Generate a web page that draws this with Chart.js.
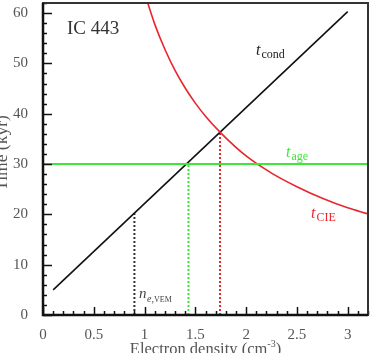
<!DOCTYPE html>
<html>
<head>
<meta charset="utf-8">
<script src="https://cdn.jsdelivr.net/npm/chart.js@4"></script>
<style>
  html, body { margin: 0; padding: 0; background: #fff; }
  canvas { display: block; }
</style>
</head>
<body>
<canvas id="chart-ic443" width="370" height="353"></canvas>
<script>
// t_cond (black line)
const condDensity = [0.1, 3.0];
const condTime = [5.0, 60.3];

// t_CIE (red curve)
const cieDensity = [1.0, 1.1, 1.2, 1.3, 1.4, 1.5, 1.6, 1.75, 2.0, 2.25, 2.5, 2.75, 3.0, 3.2];
const cieTime = [64.0, 57.8, 52.8, 48.6, 45.1, 42.1, 39.5, 36.2, 31.6, 28.2, 25.5, 23.2, 21.3, 20.1];

// t_age (green horizontal)
const ageDensity = [0, 3.2];
const ageTime = [30, 30];

// dotted markers: [density, time at top]
const vemMark = [0.9, 20.2];
const ageMark = [1.432, 30];
const cieMark = [1.743, 36.4];

const xTicks = [0, 0.5, 1, 1.5, 2, 2.5, 3];
const yTicks = [0, 10, 20, 30, 40, 50, 60];
const xMinorStep = 0.1;
const yMinorStep = 2;

const RED = '#e8262c';
const GREEN = '#3ee63a';
const INK = '#111';
const LABEL = '#555';
const SERIF = '"Liberation Serif", "DejaVu Serif", serif';

const pts = (xs, ys) => xs.map((x, i) => ({ x, y: ys[i] }));
const vline = (m) => [{ x: m[0], y: 0 }, { x: m[0], y: m[1] }];

const drawSub = (ctx, x, y, main, sub, color, mainSize, subSize) => {
  ctx.fillStyle = color;
  ctx.textBaseline = 'alphabetic';
  ctx.textAlign = 'left';
  ctx.font = `italic ${mainSize}px ${SERIF}`;
  ctx.fillText(main, x, y);
  const w = ctx.measureText(main).width;
  ctx.font = `${subSize}px ${SERIF}`;
  ctx.fillText(sub, x + w + 1, y + 3);
};

const frameAndText = {
  id: 'frameAndText',
  afterDraw(chart) {
    const { ctx, chartArea: a, scales: { x, y } } = chart;
    ctx.save();

    // inward ticks
    ctx.strokeStyle = INK;
    ctx.lineWidth = 1.5;
    ctx.beginPath();
    for (let v = 0; v <= 3.2 + 1e-9; v += xMinorStep) {
      const px = Math.round(x.getPixelForValue(v)) + 0.5;
      const major = xTicks.some((t) => Math.abs(t - v) < 1e-6);
      ctx.moveTo(px, a.bottom);
      ctx.lineTo(px, a.bottom - (major ? 8 : 4));
    }
    for (let v = 0; v <= 62 + 1e-9; v += yMinorStep) {
      const py = Math.round(y.getPixelForValue(v)) + 0.5;
      const major = yTicks.some((t) => Math.abs(t - v) < 1e-6);
      ctx.moveTo(a.left, py);
      ctx.lineTo(a.left + (major ? 9 : 4), py);
    }
    ctx.stroke();

    // frame
    ctx.strokeStyle = '#333';
    ctx.lineWidth = 2;
    ctx.strokeRect(a.left, a.top, a.right - a.left, a.bottom - a.top);
    ctx.strokeStyle = INK;
    ctx.lineWidth = 2.5;
    ctx.beginPath();
    ctx.moveTo(a.left, a.top);
    ctx.lineTo(a.left, a.bottom);
    ctx.lineTo(a.right, a.bottom);
    ctx.stroke();

    // labels
    ctx.fillStyle = '#333';
    ctx.font = `19px ${SERIF}`;
    ctx.textBaseline = 'alphabetic';
    ctx.fillText('IC 443', 67, 34);

    drawSub(ctx, 256, 55, 't', 'cond', '#222', 16, 12);
    drawSub(ctx, 286, 157, 't', 'age', GREEN, 16, 12);
    drawSub(ctx, 311, 218, 't', 'CIE', RED, 16, 12);

    ctx.fillStyle = '#444';
    ctx.font = `italic 15px ${SERIF}`;
    ctx.fillText('n', 139, 298);
    ctx.font = `italic 10px ${SERIF}`;
    ctx.fillText('e,', 147, 302);
    ctx.font = `8px ${SERIF}`;
    ctx.fillText('VEM', 154, 302);

    // axis titles
    ctx.fillStyle = LABEL;
    const title = 'Electron density (cm';
    const sup = '-3';
    ctx.font = `16.5px ${SERIF}`;
    const tw = ctx.measureText(title).width;
    const pw = ctx.measureText(')').width;
    ctx.font = `10px ${SERIF}`;
    const sw = ctx.measureText(sup).width;
    const cx = (a.left + a.right) / 2;
    const sx = cx - (tw + sw + pw) / 2;
    ctx.font = `16.5px ${SERIF}`;
    ctx.fillText(title, sx, 354);
    ctx.fillText(')', sx + tw + sw, 354);
    ctx.font = `10px ${SERIF}`;
    ctx.fillText(sup, sx + tw, 347);

    ctx.translate(7, 153);
    ctx.rotate(-Math.PI / 2);
    ctx.textAlign = 'center';
    ctx.font = `17.5px ${SERIF}`;
    ctx.fillText('Time (kyr)', 0, 0);

    ctx.restore();
  },
};

const lineSet = (data, color, width, dash) => ({
  data,
  showLine: true,
  borderColor: color,
  borderWidth: width,
  borderDash: dash || [],
  pointRadius: 0,
  fill: false,
});

const ctx = document.getElementById('chart-ic443').getContext('2d');
new Chart(ctx, {
  type: 'scatter',
  data: {
    datasets: [
      lineSet(pts(ageDensity, ageTime), GREEN, 2),
      { ...lineSet(pts(cieDensity, cieTime), RED, 1.6), cubicInterpolationMode: 'monotone' },
      lineSet(pts(condDensity, condTime), INK, 1.6),
      lineSet(vline(vemMark), '#333', 2, [2, 2]),
      lineSet(vline(ageMark), GREEN, 2, [2, 2]),
      lineSet(vline(cieMark), RED, 2, [2, 2]),
    ],
  },
  options: {
    responsive: false,
    animation: false,
    events: [],
    layout: { padding: { top: 3, right: 2, left: 0, bottom: 0 } },
    plugins: { legend: { display: false }, tooltip: { enabled: false } },
    scales: {
      x: {
        type: 'linear',
        min: 0,
        max: 3.2,
        grid: { display: false },
        border: { display: false },
        afterBuildTicks: (s) => { s.ticks = xTicks.map((value) => ({ value })); },
        afterFit: (s) => { s.height = 38; s.paddingLeft = 0; s.paddingRight = 0; },
        ticks: {
          padding: 3,
          color: LABEL,
          font: { family: SERIF, size: 15 },
          maxRotation: 0,
          callback: (v) => String(v),
        },
      },
      y: {
        type: 'linear',
        min: 0,
        max: 62,
        grid: { display: false },
        border: { display: false },
        afterBuildTicks: (s) => { s.ticks = yTicks.map((value) => ({ value })); },
        afterFit: (s) => { s.width = 43; s.paddingTop = 0; s.paddingBottom = 0; },
        ticks: {
          padding: 7,
          color: LABEL,
          font: { family: SERIF, size: 15 },
          callback: (v) => String(v),
        },
      },
    },
  },
  plugins: [frameAndText],
});
</script>
</body>
</html>
